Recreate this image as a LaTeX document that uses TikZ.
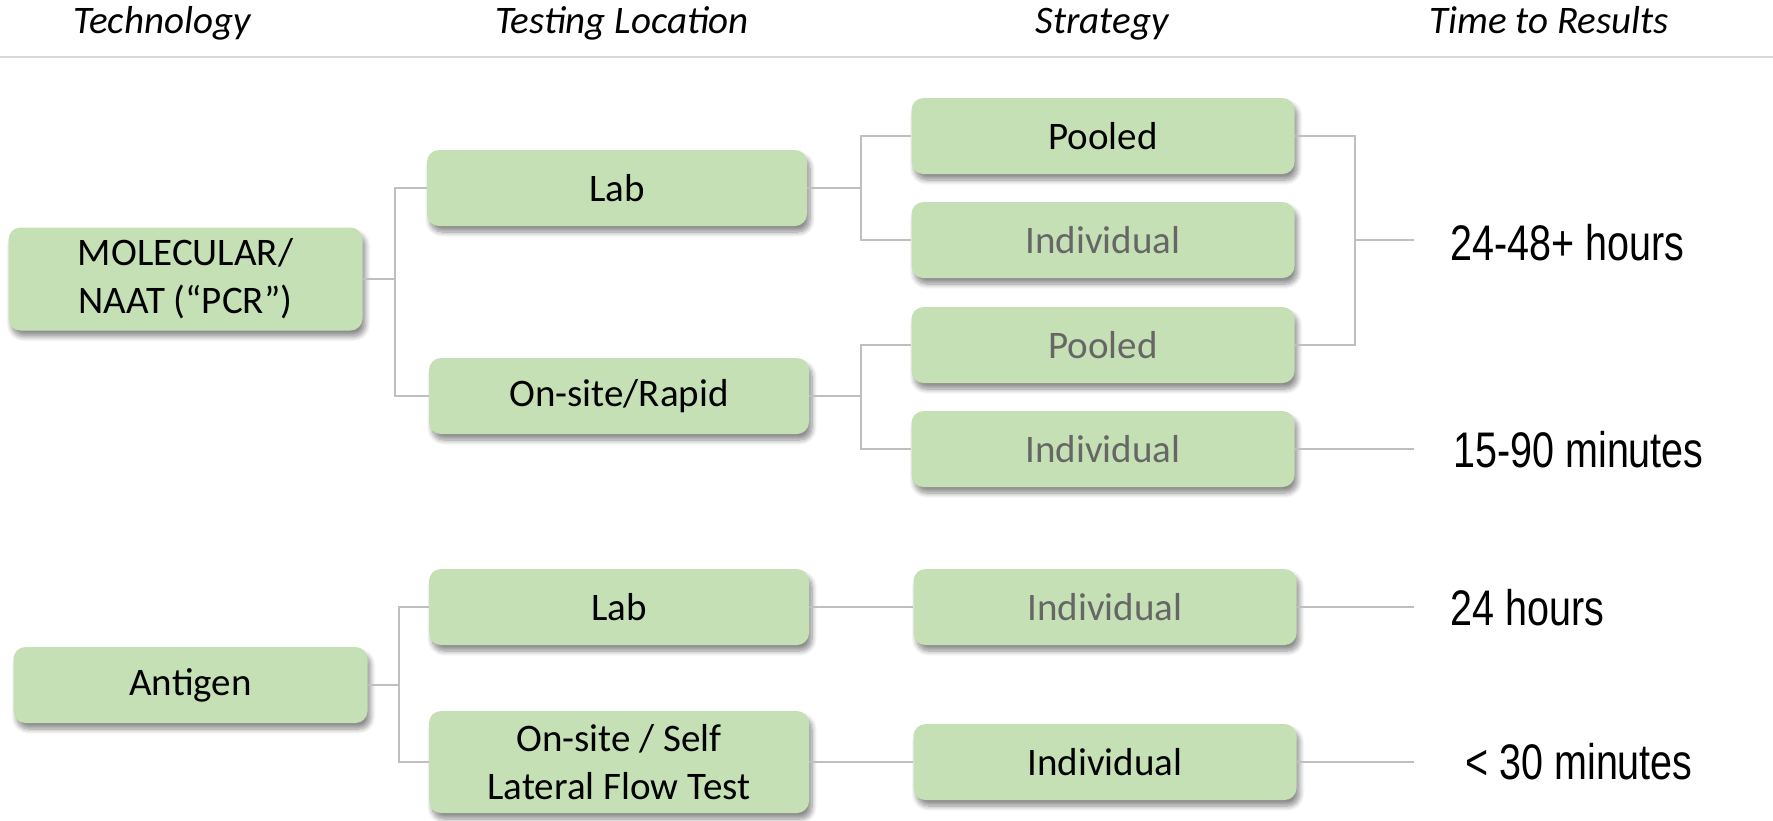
\documentclass[tikz,border=0pt]{standalone}
\usepackage{fontspec}
\setmainfont{Carlito}
\newfontfamily\narrowfont[FakeStretch=0.79]{Liberation Sans}
\usetikzlibrary{shadows.blur}

\definecolor{boxgreen}{HTML}{C5E0B4}
\definecolor{linegray}{HTML}{BFBFBF}
\definecolor{rulegray}{HTML}{D9D9D9}
\definecolor{dimtext}{HTML}{666666}

\begin{document}
\begin{tikzpicture}[x=0.5pt, y=-0.5pt,
  %% Green option boxes (with soft drop shadow)
  optbox/.style={fill=boxgreen, rounded corners=6pt, align=center,
                 font=\fontsize{19.5}{24}\selectfont, inner sep=0pt,
                 minimum height=38pt,
                 blur shadow={shadow xshift=1.5pt, shadow yshift=-3pt,
                              shadow blur radius=2.5pt, shadow blur steps=8,
                              shadow opacity=45}},
  techbox/.style={optbox, minimum width=177pt},
  locbox/.style={optbox, minimum width=190pt},
  stratbox/.style={optbox, minimum width=191.5pt},
  %% Greyed-out labels
  dim/.style={text=dimtext},
  %% Column headers
  colhead/.style={font=\fontsize{19.5}{23}\selectfont\itshape, anchor=base},
  %% Result times on the right
  timetxt/.style={font=\narrowfont\fontsize{25}{30}\selectfont,
                  anchor=west, inner sep=0pt},
  %% Thin grey tree lines
  conn/.style={draw=linegray, line width=1pt}
]
\useasboundingbox (0,0) rectangle (1773,820);

%% ── Headers ──────────────────────────────────────────────────────────
\node[colhead] (hTech)  at (162,33)  {Technology};
\node[colhead] (hLoc)   at (622,33)  {Testing Location};
\node[colhead] (hStrat) at (1102,33) {Strategy};
\node[colhead] (hTime)  at (1549,33) {Time to Results};
\draw[rulegray, line width=1pt] (0,57) -- (1773,57);

%% ── Molecular branch ─────────────────────────────────────────────────
\node[techbox, minimum height=51.5pt] (mol) at (185.5,279) {MOLECULAR/\\NAAT (“PCR”)};
\node[locbox] (lab1) at (617,188) {Lab};
\node[locbox] (rap)  at (619,396) {On-site/Rapid};
\node[stratbox]      (pool1) at (1103,136) {Pooled};
\node[stratbox, dim] (ind1)  at (1103,240) {Individual};
\node[stratbox, dim] (pool2) at (1103,345) {Pooled};
\node[stratbox, dim] (ind2)  at (1103,449) {Individual};

%% ── Antigen branch ───────────────────────────────────────────────────
\node[techbox] (ant) at (190.5,685) {Antigen};
\node[locbox] (lab2) at (619,607) {Lab};
\node[locbox, minimum height=51pt] (lft) at (619,762) {On-site / Self\\Lateral Flow Test};
\node[stratbox, dim] (ind3) at (1105,607) {Individual};
\node[stratbox]      (ind4) at (1105,762) {Individual};

%% ── Times ────────────────────────────────────────────────────────────
\node[timetxt] (t1) at (1450,243) {24-48+ hours};
\node[timetxt] (t2) at (1453,450) {15-90 minutes};
\node[timetxt] (t3) at (1450,608) {24 hours};
\node[timetxt] (t4) at (1465,762) {< 30 minutes};

%% fork / merge points
\coordinate (fkMol) at (395,0);
\coordinate (fkLab) at (861,0);
\coordinate (fkAnt) at (399,0);
\coordinate (mrg)   at (1355,240);
\coordinate (e1) at (1414,240);
\coordinate (e2) at (1414,449);
\coordinate (e3) at (1414,607);
\coordinate (e4) at (1414,762);

%% ── Tree lines ───────────────────────────────────────────────────────
\draw[conn] (lab1.west) -| (fkMol |- mol) -- (mol.east);
\draw[conn] (rap.west)  -| (fkMol |- mol);
\draw[conn] (pool1.west) -| (fkLab |- lab1) -- (lab1.east);
\draw[conn] (ind1.west)  -| (fkLab |- lab1);
\draw[conn] (pool2.west) -| (fkLab |- rap) -- (rap.east);
\draw[conn] (ind2.west)  -| (fkLab |- rap);
\draw[conn] (lab2.west) -| (fkAnt |- ant) -- (ant.east);
\draw[conn] (lft.west)  -| (fkAnt |- ant);
\draw[conn] (lab2.east) -- (ind3.west);
\draw[conn] (lft.east)  -- (ind4.west);

%% merge of molecular lab / pooled results
\draw[conn] (pool1.east) -| (mrg |- pool2) -- (pool2.east);
\draw[conn] (mrg) -- (e1);
\draw[conn] (ind2.east) -- (e2);
\draw[conn] (ind3.east) -- (e3);
\draw[conn] (ind4.east) -- (e4);

\end{tikzpicture}
\end{document}
